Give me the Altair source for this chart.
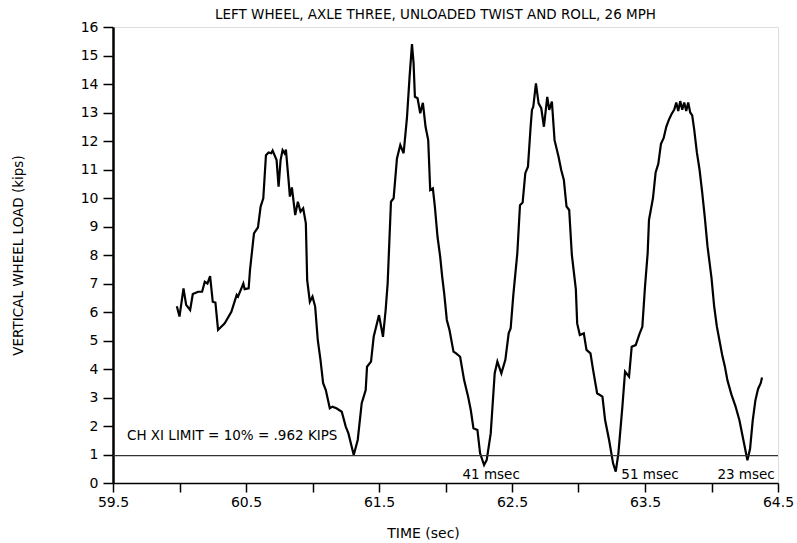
import altair as alt
import pandas as pd

# ---- data ----
time_s = [
    59.98, 60.00, 60.03, 60.05, 60.08, 60.10, 60.14, 60.17, 60.19, 60.21,
    60.23, 60.25, 60.27, 60.29, 60.34, 60.39, 60.43, 60.44, 60.48, 60.49,
    60.52, 60.53, 60.56, 60.59, 60.61, 60.63, 60.65, 60.67, 60.69, 60.70,
    60.73, 60.745, 60.76, 60.775, 60.79, 60.80, 60.82, 60.83, 60.845, 60.87,
    60.89, 60.91, 60.93, 60.95, 60.96, 60.98, 61.00, 61.02, 61.04, 61.06,
    61.08, 61.10, 61.13, 61.15, 61.18, 61.22, 61.25, 61.27, 61.31, 61.34,
    61.37, 61.40, 61.41, 61.44, 61.46, 61.50, 61.53, 61.55, 61.565, 61.59,
    61.61, 61.635, 61.66, 61.685, 61.71, 61.73, 61.748, 61.76, 61.77, 61.79,
    61.81, 61.83, 61.85, 61.87, 61.885, 61.905, 61.92, 61.94, 61.96, 61.975,
    61.99, 62.01, 62.03, 62.06, 62.08, 62.11, 62.14, 62.17, 62.19, 62.21,
    62.24, 62.26, 62.29, 62.31, 62.34, 62.36, 62.37, 62.39, 62.42, 62.45,
    62.475, 62.49, 62.51, 62.54, 62.56, 62.58, 62.60, 62.62, 62.64, 62.65,
    62.66, 62.68, 62.70, 62.72, 62.74, 62.765, 62.78, 62.80, 62.82, 62.85,
    62.87, 62.89, 62.91, 62.93, 62.95, 62.98, 62.99, 63.01, 63.04, 63.06,
    63.09, 63.11, 63.14, 63.18, 63.20, 63.23, 63.26, 63.28, 63.30, 63.33,
    63.35, 63.38, 63.40, 63.43, 63.46, 63.48, 63.50, 63.52, 63.53, 63.56,
    63.58, 63.60, 63.62, 63.64, 63.66, 63.68, 63.70, 63.72, 63.735, 63.75,
    63.765, 63.78, 63.795, 63.81, 63.825, 63.84, 63.855, 63.87, 63.89, 63.91,
    63.93, 63.95, 63.97, 64.00, 64.02, 64.04, 64.06, 64.08, 64.10, 64.12,
    64.15, 64.18, 64.21, 64.24, 64.27, 64.29, 64.31, 64.33, 64.35, 64.37,
    64.38,
]
load_kips = [
    6.20, 5.84, 6.83, 6.25, 6.07, 6.63, 6.71, 6.71, 7.06, 7.00,
    7.26, 6.36, 6.33, 5.37, 5.60, 6.01, 6.60, 6.54, 7.00, 6.80,
    6.83, 7.47, 8.76, 8.97, 9.70, 9.99, 11.50, 11.60, 11.57, 11.66,
    11.33, 10.40, 11.33, 11.68, 11.57, 11.70, 10.63, 10.05, 10.37, 9.40,
    9.87, 9.52, 9.64, 9.11, 7.12, 6.36, 6.54, 6.19, 5.00, 4.32,
    3.50, 3.26, 2.62, 2.68, 2.62, 2.50, 1.98, 1.74, 0.98, 1.51,
    2.80, 3.26, 4.08, 4.26, 5.13, 5.89, 5.13, 6.07, 7.00, 9.87,
    9.99, 11.39, 11.86, 11.57, 12.80, 14.26, 15.40, 14.73, 13.55, 13.50,
    12.97, 13.34, 12.50, 12.03, 10.28, 10.34, 9.70, 8.64, 7.94, 7.24,
    6.66, 5.72, 5.37, 4.61, 4.55, 4.43, 3.61, 3.03, 2.56, 1.92,
    1.86, 1.04, 0.63, 0.81, 1.74, 3.15, 3.85, 4.26, 3.85, 4.32,
    5.25, 5.43, 6.60, 8.06, 9.75, 9.84, 10.87, 11.10, 12.50, 13.09,
    13.20, 14.02, 13.32, 13.15, 12.50, 13.55, 13.09, 13.38, 12.03, 11.45,
    10.98, 10.63, 9.70, 9.58, 8.00, 6.80, 5.60, 5.19, 5.25, 4.67,
    4.55, 3.96, 3.15, 3.03, 2.21, 1.51, 0.69, 0.40, 1.04, 2.68,
    3.91, 3.73, 4.78, 4.84, 5.25, 5.48, 6.89, 8.06, 9.23, 10.00,
    10.90, 11.20, 11.90, 12.10, 12.50, 12.75, 12.95, 13.10, 13.35, 13.05,
    13.40, 13.10, 13.35, 13.05, 13.35, 13.00, 12.90, 12.40, 11.60, 11.00,
    10.20, 9.30, 8.30, 7.20, 6.20, 5.50, 5.00, 4.50, 4.10, 3.60,
    3.10, 2.70, 2.20, 1.50, 0.80, 1.20, 2.20, 2.90, 3.30, 3.50,
    3.70,
]

limit_kips = [0.962]

note_text = ["CH XI LIMIT = 10% = .962 KIPS", "41 msec", "51 msec", "23 msec"]
note_time = [59.605, 62.343, 63.538, 64.26]
note_load = [1.66, 0.28, 0.28, 0.28]
note_align = ["left", "center", "center", "center"]

x_ticks = [59.5, 60.0, 60.5, 61.0, 61.5, 62.0, 62.5, 63.0, 63.5, 64.0, 64.5]
y_ticks = list(range(0, 17))

title_text = "LEFT WHEEL, AXLE THREE, UNLOADED TWIST AND ROLL, 26 MPH"
x_title = "TIME (sec)"
y_title = "VERTICAL WHEEL LOAD (kips)"

FONT = "DejaVu Sans"

curve_df = pd.DataFrame({"t": time_s, "v": load_kips})
limit_df = pd.DataFrame({"v": limit_kips})
note_df = pd.DataFrame({"text": note_text, "t": note_time, "v": note_load, "align": note_align})

x_scale = alt.Scale(domain=[59.5, 64.5], nice=False, zero=False)
y_scale = alt.Scale(domain=[0, 16], nice=False, zero=True)

x_axis = alt.Axis(
    values=x_ticks,
    labelExpr="datum.value % 1 == 0 ? '' : format(datum.value, '.1f')",
    labelOverlap=False,
    labelFlush=False,
    title=x_title,
    grid=False,
    tickSize=9,
    tickWidth=1.5,
    domainWidth=1.5,
    domainColor="black",
    tickColor="black",
    labelColor="black",
    labelFont=FONT,
    labelFontSize=14,
    labelPadding=3,
    titleFont=FONT,
    titleFontSize=14,
    titleFontWeight="normal",
    titleColor="black",
    titleX=310,
    titleY=50,
    titleBaseline="middle",
    titleAlign="center",
)
y_axis = alt.Axis(
    values=y_ticks,
    format="d",
    labelOverlap=False,
    labelFlush=False,
    title=y_title,
    grid=False,
    tickSize=10,
    tickWidth=1.5,
    domainWidth=2.5,
    domainColor="black",
    tickColor="black",
    labelColor="black",
    labelFont=FONT,
    labelFontSize=14,
    labelPadding=5,
    titleFont=FONT,
    titleFontSize=13.5,
    titleFontWeight="normal",
    titleColor="black",
    titleX=-95,
    titleY=228,
    titleBaseline="middle",
    titleAlign="center",
    titleAngle=270,
)

X = alt.X("t:Q", scale=x_scale, axis=x_axis)
Y = alt.Y("v:Q", scale=y_scale, axis=y_axis)

curve = alt.Chart(curve_df).mark_line(color="black", strokeWidth=2.2).encode(x=X, y=Y)

limit = alt.Chart(limit_df).mark_rule(color="#333333", strokeWidth=1.2).encode(y=Y)

notes_left = alt.Chart(note_df).transform_filter("datum.align == 'left'").mark_text(
    align="left", baseline="middle", font=FONT, fontSize=13.5, color="black"
).encode(x=X, y=Y, text="text:N")

notes_center = alt.Chart(note_df).transform_filter("datum.align == 'center'").mark_text(
    align="center", baseline="middle", font=FONT, fontSize=13.5, color="black"
).encode(x=X, y=Y, text="text:N")

chart = alt.layer(curve, limit, notes_left, notes_center).properties(
    width=665,
    height=456,
    title=alt.TitleParams(
        text=title_text,
        font=FONT,
        fontSize=13.5,
        fontWeight="normal",
        color="black",
        anchor="middle",
        frame="group",
        offset=7,
        dx=-10,
        dy=8,
    ),
    autosize=alt.AutoSizeParams(type="none"),
    padding={"left": 113, "top": 27, "right": 19, "bottom": 60},
).configure_view(
    stroke="black", strokeWidth=1.5
).configure(background="white")

chart.save("out.html", embed_options={"renderer": "svg", "actions": False})
